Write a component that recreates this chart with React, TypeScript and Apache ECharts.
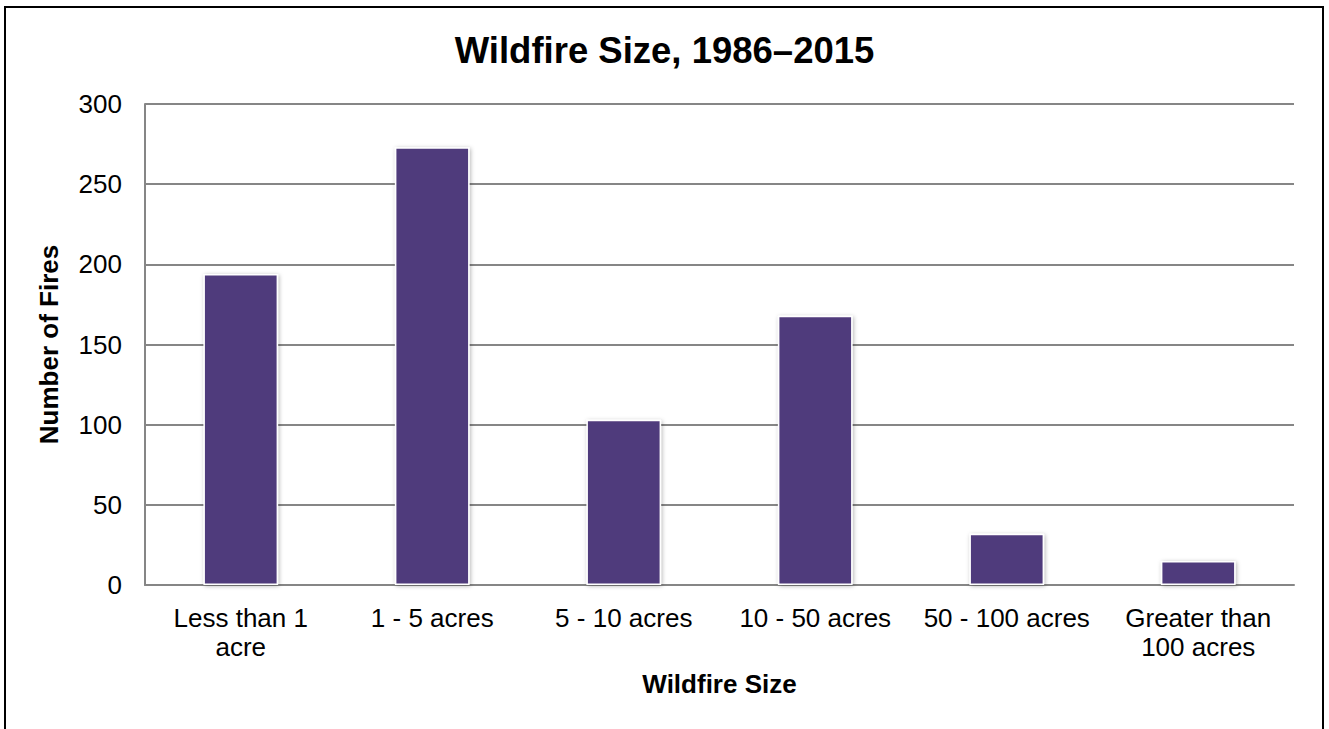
import React, { useEffect, useRef } from "react";
import * as echarts from "echarts";

const categories = ["Less than 1\nacre", "1 - 5 acres", "5 - 10 acres", "10 - 50 acres", "50 - 100 acres", "Greater than\n100 acres"];
const fires = [194, 273, 103, 168, 32, 15];
const yMin = 0;
const yMax = 300;
const yInterval = 50;

export default function App() {
  const ref = useRef<HTMLDivElement>(null);
  useEffect(() => {
    const chart = echarts.init(ref.current!, null, { renderer: "svg" });
    const font = "Arial, 'Liberation Sans', sans-serif";
    chart.setOption({
      animation: false,
      backgroundColor: "#ffffff",
      textStyle: { fontFamily: font },
      title: {
        text: "Wildfire Size, 1986–2015",
        left: "center",
        top: 27,
        textStyle: { fontFamily: font, fontSize: 36.5, fontWeight: "bold", color: "#000" },
      },
      graphic: [
        {
          type: "rect",
          shape: { x: 5, y: 7, width: 1318, height: 760 },
          style: { fill: "none", stroke: "#000", lineWidth: 2 },
          z: 100,
        },
      ],
      grid: { left: 145, right: 35, top: 104, bottom: 144, containLabel: false },
      xAxis: {
        type: "category",
        data: categories,
        name: "Wildfire Size",
        nameLocation: "middle",
        nameGap: 86,
        nameTextStyle: { fontFamily: font, fontSize: 26, fontWeight: "bold", color: "#000" },
        axisLine: { show: true, lineStyle: { color: "#868686", width: 2 } },
        axisTick: { show: false },
        axisLabel: { fontFamily: font, fontSize: 26, color: "#000", margin: 18, lineHeight: 29, interval: 0 },
      },
      yAxis: {
        type: "value",
        min: yMin,
        max: yMax,
        interval: yInterval,
        name: "Number of Fires",
        nameLocation: "middle",
        nameGap: 83,
        nameTextStyle: { fontFamily: font, fontSize: 26, fontWeight: "bold", color: "#000" },
        axisLine: { show: true, lineStyle: { color: "#868686", width: 2 } },
        axisTick: { show: false },
        axisLabel: { fontFamily: font, fontSize: 26, color: "#000", margin: 23 },
        splitLine: { show: true, lineStyle: { color: "#868686", width: 2 } },
      },
      series: [
        {
          type: "bar",
          data: fires,
          barWidth: "39%",
          itemStyle: {
            color: "#4F3A7B",
            borderColor: "#ffffff",
            borderWidth: 1.5,
            shadowColor: "rgba(0,0,0,0.3)",
            shadowBlur: 4,
            shadowOffsetX: 1,
            shadowOffsetY: 1,
          },
        },
      ],
    });
    return () => chart.dispose();
  }, []);
  return (
    <div
      ref={ref}
      style={{ position: "fixed", left: 0, top: 0, width: 1329, height: 729, background: "#fff" }}
    />
  );
}
